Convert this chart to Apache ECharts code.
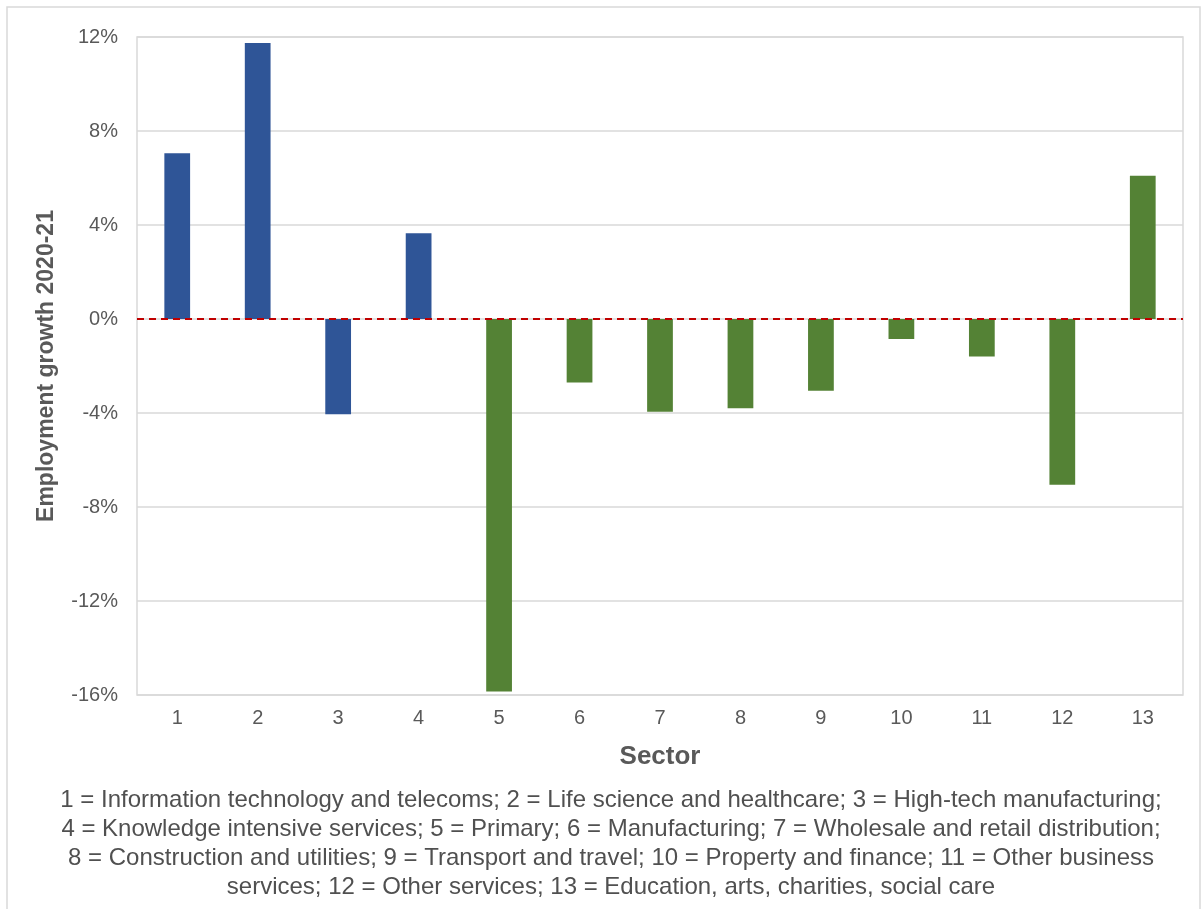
<!DOCTYPE html>
<html><head><meta charset="utf-8">
<script src="https://cdn.jsdelivr.net/npm/echarts@6/dist/echarts.min.js"></script>
<style>html,body{margin:0;padding:0;background:#fff}#c{width:1203px;height:909px}</style>
</head><body><div id="c"></div>
<script>
const categories = ['1','2','3','4','5','6','7','8','9','10','11','12','13'];
const growthValues = [7.05, 11.75, -4.05, 3.65, -15.85, -2.7, -3.95, -3.8, -3.05, -0.85, -1.6, -7.05, 6.1];
const sectorGroup = ['hi','hi','hi','hi','lo','lo','lo','lo','lo','lo','lo','lo','lo'];
const yTicks = {min: -16, max: 12, interval: 4};
const footnoteLines = [
  '1 = Information technology and telecoms; 2 = Life science and healthcare; 3 = High-tech manufacturing;',
  '4 = Knowledge intensive services; 5 = Primary; 6 = Manufacturing; 7 = Wholesale and retail distribution;',
  '8 = Construction and utilities; 9 = Transport and travel; 10 = Property and finance; 11 = Other business',
  'services; 12 = Other services; 13 = Education, arts, charities, social care'
];
const groupColors = {hi: '#2F5597', lo: '#548235'};

const chart = echarts.init(document.getElementById('c'));
chart.setOption({
  animation: false,
  backgroundColor: '#fff',
  textStyle: {fontFamily: 'Liberation Sans, Arial, sans-serif'},
  grid: {left: 137, right: 20, top: 37, bottom: 214, show: true, borderColor: '#d9d9d9', borderWidth: 1.5},
  graphic: [
    {type: 'rect', shape: {x: 7, y: 7, width: 1193, height: 910}, style: {fill: 'none', stroke: '#d9d9d9', lineWidth: 1.5}, silent: true},
    {type: 'text', x: 611, y: 786, style: {text: footnoteLines.join('\n'), textAlign: 'center', fill: '#505050', font: '24px "Liberation Sans", Arial, sans-serif', lineHeight: 29}}
  ],
  xAxis: {
    type: 'category', data: categories,
    axisLine: {show: false, onZero: false}, axisTick: {show: false},
    axisLabel: {color: '#595959', fontSize: 20, margin: 13},
    name: 'Sector', nameLocation: 'middle', nameGap: 49,
    nameTextStyle: {fontSize: 26, fontWeight: 'bold', color: '#595959'}
  },
  yAxis: {
    type: 'value', min: yTicks.min, max: yTicks.max, interval: yTicks.interval,
    axisLabel: {color: '#595959', fontSize: 20, margin: 19, formatter: v => v + '%'},
    axisLine: {show: false}, axisTick: {show: false},
    splitLine: {lineStyle: {color: '#d9d9d9', width: 1.5}},
    name: 'Employment growth 2020-21', nameLocation: 'middle', nameGap: 79,
    nameTextStyle: {fontSize: 23, fontWeight: 'bold', color: '#595959'}
  },
  series: [{
    type: 'bar',
    barWidth: '32%',
    data: growthValues.map((v, i) => ({value: v, itemStyle: {color: groupColors[sectorGroup[i]]}})),
    markLine: {
      silent: true, symbol: 'none', label: {show: false},
      lineStyle: {color: '#C00000', type: [7, 5], width: 1.8},
      data: [{yAxis: 0}]
    }
  }]
});
</script></body></html>
